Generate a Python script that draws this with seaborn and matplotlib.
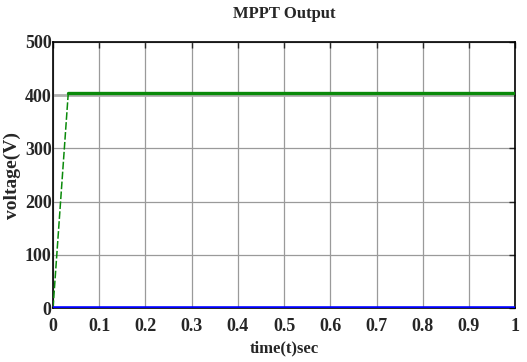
import matplotlib
matplotlib.use("Agg")
import matplotlib.pyplot as plt
import seaborn as sns

# Data
time_rise = [0.0, 0.033]
volt_rise = [0.0, 404.0]
time_flat = [0.033, 1.0]
volt_flat = [404.0, 404.0]
time_base = [0.0, 1.0]
volt_base = [0.0, 0.0]
xticks = [0, 0.1, 0.2, 0.3, 0.4, 0.5, 0.6, 0.7, 0.8, 0.9, 1]
xticklabels = ["0", "0.1", "0.2", "0.3", "0.4", "0.5", "0.6", "0.7", "0.8", "0.9", "1"]
yticks = [0, 100, 200, 300, 400, 500]

sns.set_style("white")
plt.rcParams['font.family'] = ['Liberation Serif', 'DejaVu Serif']
plt.rcParams['font.weight'] = 'bold'

fig = plt.figure(figsize=(5.27, 3.62), dpi=100)
ax = fig.add_axes([0.1006, 0.149, 0.877, 0.735])

ax.axhline(400, color="#b0b0b0", lw=2.0, zorder=2.5)
sns.lineplot(x=time_rise, y=volt_rise, ax=ax, color="#0a8a0a", lw=1.1,
             linestyle=(0, (5, 1.5)), zorder=4)
sns.lineplot(x=time_flat, y=volt_flat, ax=ax, color="#0a8a0a", lw=2.4, zorder=4)
sns.lineplot(x=time_base, y=volt_base, ax=ax, color="#0000ff", lw=2.6, zorder=5)

ax.set_xlim(0, 1)
ax.set_ylim(0, 500)
ax.set_xticks(xticks)
ax.set_xticklabels(xticklabels)
ax.set_yticks(yticks)
ax.grid(True, color="#9a9a9a", lw=0.9)
ax.tick_params(axis='x', direction='in', length=4, width=1, labelsize=13, pad=7,
               top=True)
ax.tick_params(axis='y', direction='in', length=4, width=1, labelsize=13, pad=1,
               right=True)
for lab in ax.get_xticklabels() + ax.get_yticklabels():
    lab.set_fontweight('bold')
for s in ax.spines.values():
    s.set_color('black')
    s.set_linewidth(1.2)
ax.set_xlabel("time(t)sec", fontsize=12, fontweight='bold', labelpad=4)
ax.set_ylabel("voltage(V)", fontsize=14, fontweight='bold', labelpad=3)
ax.set_title("MPPT Output", fontsize=12, fontweight='bold', pad=17)

fig.savefig("out.png", dpi=100)
